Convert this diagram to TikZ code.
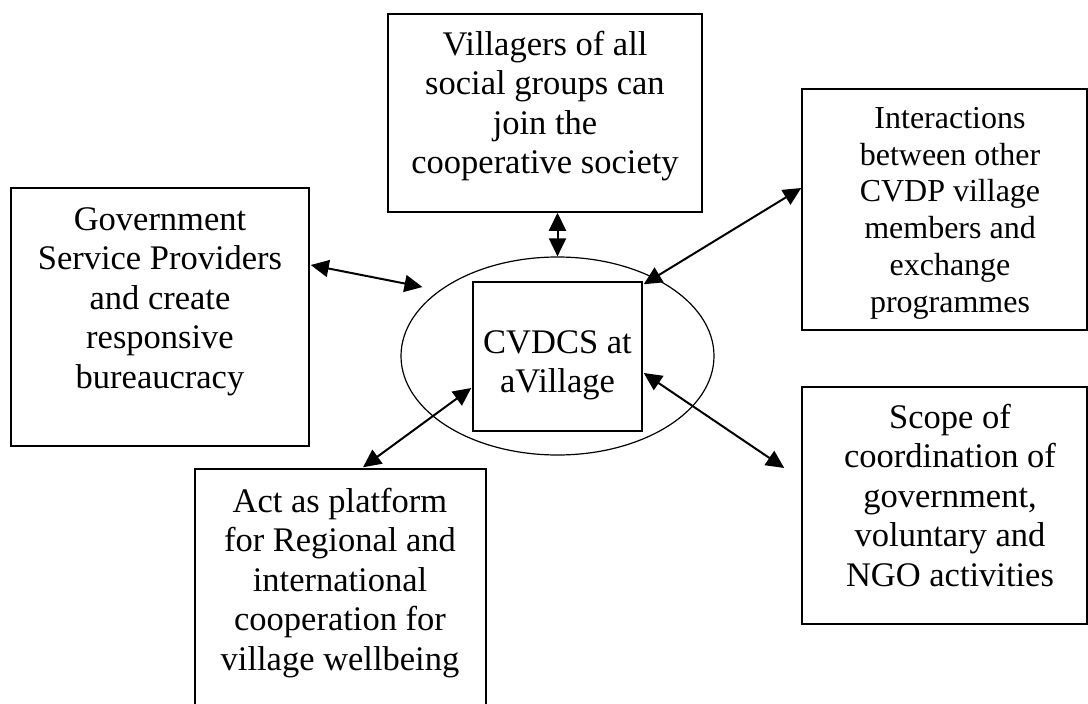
\documentclass[tikz,border=0pt]{standalone}
\usepackage{fontspec}
\setmainfont{Liberation Serif}
\usetikzlibrary{arrows.meta,calc,shapes.geometric}

% invisible strut that fixes the top of the first text line
\newcommand\capstrut{\rule{0pt}{28pt}}

\begin{document}
\begin{tikzpicture}[x=1pt,y=-1pt,
  box/.style={draw, line width=1.5pt, rectangle, inner sep=0pt},
  label/.style={anchor=north, inner sep=0pt, align=center,
                font=\fontsize{34.5}{39.5}\selectfont},
  smalllabel/.style={label, font=\fontsize{32}{36.8}\selectfont},
  link/.style={line width=2pt,
               {Triangle[length=18pt,width=17pt]}-{Triangle[length=18pt,width=17pt]}},
]
\useasboundingbox (0,0) rectangle (1088,704);

% central society: ellipse with the box inside
\node[draw, ellipse, line width=1.2pt, inner sep=0pt,
      minimum width=313pt, minimum height=198pt] (ell) at (557.5,356) {};
\node[box, minimum width=169pt, minimum height=149pt] (inner) at (557.5,356.5) {};
\node[label] (innertxt) at (557.5,325) {\capstrut CVDCS at\\aVillage};

% surrounding boxes
\node[box, minimum width=314pt, minimum height=198pt] (topbox) at (545,113) {};
\node[label] (toptxt) at (545,27)
  {\capstrut Villagers of all\\social groups can\\join the\\cooperative society};

\node[box, minimum width=298pt, minimum height=258pt] (leftbox) at (160,317) {};
\node[label] (lefttxt) at (160,202)
  {\capstrut Government\\Service Providers\\and create\\responsive\\bureaucracy};

\node[box, minimum width=285pt, minimum height=241pt] (rtbox) at (944.5,209.5) {};
\node[smalllabel] (rttxt) at (950,100)
  {\capstrut Interactions\\between other\\CVDP village\\members and\\exchange\\programmes};

\node[box, minimum width=285pt, minimum height=237pt] (rbbox) at (944.5,505.5) {};
\node[label] (rbtxt) at (950,400)
  {\capstrut Scope of\\coordination of\\government,\\voluntary and\\NGO activities};

\begin{scope}
  \clip (0,0) rectangle (1088,704);
  \node[box, minimum width=291pt, minimum height=291pt] (botbox) at (340.5,614.5) {};
\end{scope}
\node[label] (bottxt) at (340,484)
  {\capstrut Act as platform\\for Regional and\\international\\cooperation for\\village wellbeing};

% two-way links
\draw[link] (ell.north |- topbox.south) -- (ell.north);
\draw[link] ($(leftbox.east)+(1,-52)$) -- ($(ell.center)+(-135,-69)$);
\draw[link] ($(rtbox.west)+(0,-21.5)$) -- ($(inner.north east)+(1,3)$);
\draw[link] ($(botbox.north)+(22.5,-1)$) -- ($(inner.west)+(-1,31.5)$);
\draw[link] ($(inner.east)+(1,16.5)$) -- ($(rbbox.west)+(-17,-37.5)$);
\end{tikzpicture}
\end{document}
